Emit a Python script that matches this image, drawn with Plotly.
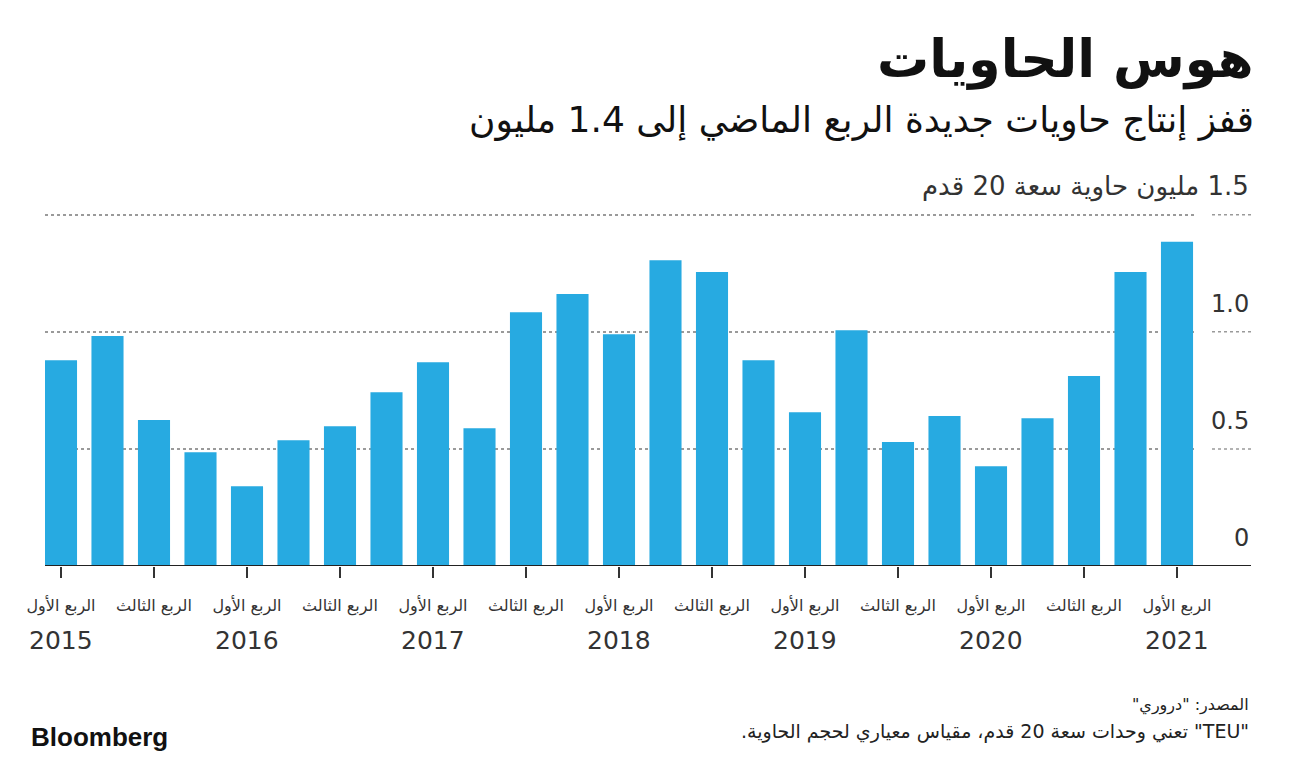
import plotly.graph_objects as go

# ---- data ----
periods = [f"{y} Q{q}" for y in range(2015, 2021) for q in (1, 2, 3, 4)] + ["2021 Q1"]
values = [0.879, 0.982, 0.623, 0.486,
          0.341, 0.537, 0.597, 0.742,
          0.870, 0.588, 1.084, 1.161,
          0.990, 1.306, 1.255, 0.879,
          0.657, 1.007, 0.529, 0.640,
          0.426, 0.631, 0.811, 1.255,
          1.385]
tick_periods = periods[::2]
tick_text = ["الربع الأول" if p.endswith("Q1") else "الربع الثالث" for p in tick_periods]
year_periods = [p for p in periods if p.endswith("Q1")]
year_labels = [p.split()[0] for p in year_periods]
y_ticks = [0, 0.5, 1.0, 1.5]
y_tick_text = ["0", "0.5", "1.0", "1.5 مليون حاوية سعة 20 قدم"]

title = "هوس الحاويات"
subtitle = "قفز إنتاج حاويات جديدة الربع الماضي إلى 1.4 مليون"
source = "المصدر: \"دروري\""
note = "\"TEU\" تعني وحدات سعة 20 قدم، مقياس معياري لحجم الحاوية."

RLE, PDF = "\u202B", "\u202C"
def rtl(s):
    return RLE + s + PDF

FONT = "DejaVu Sans"
BAR = "#27aae1"
TXT = "#333333"

OFF = 8  # default page body margin
W, H = 1297 - OFF, 762 - OFF
L = 45 - OFF
R = W - (1195 - OFF)
T = 203 - OFF
B = H - (566 - OFF)
PW = W - L - R
PH = H - T - B
def px(xpage):
    return (xpage - OFF - L) / PW
def py(ypage):
    return (H - B - (ypage - OFF)) / PH

fig = go.Figure(go.Bar(x=periods, y=values, marker_color=BAR, marker_line_width=0,
                       hoverinfo="skip"))

annotations = []
annotations.append(dict(text=rtl(title), x=px(1256), y=py(60), xref="paper", yref="paper",
                        xanchor="right", yanchor="middle", showarrow=False,
                        font=dict(family=FONT, size=52, color="#111111", weight="bold")))
annotations.append(dict(text=rtl(subtitle), x=px(1256), y=py(120), xref="paper", yref="paper",
                        xanchor="right", yanchor="middle", showarrow=False,
                        font=dict(family=FONT, size=36, color="#111111")))
for v, t in zip(y_ticks, y_tick_text):
    annotations.append(dict(text=rtl(t), x=px(1251), y=v, xref="paper", yref="y",
                            xanchor="right", yanchor="middle", yshift=28, showarrow=False,
                            font=dict(family=FONT, size=26 if v == 1.5 else 24, color=TXT)))
for p, yl in zip(year_periods, year_labels):
    annotations.append(dict(text=yl, x=p, y=0, xref="x", yref="paper", yshift=-74,
                            xanchor="center", yanchor="middle", showarrow=False,
                            font=dict(family=FONT, size=25, color=TXT)))
annotations.append(dict(text=rtl(source), x=px(1251), y=py(705), xref="paper", yref="paper",
                        xanchor="right", yanchor="middle", showarrow=False,
                        font=dict(family=FONT, size=16, color="#222222")))
annotations.append(dict(text=rtl(note), x=px(1251), y=py(731), xref="paper", yref="paper",
                        xanchor="right", yanchor="middle", showarrow=False,
                        font=dict(family=FONT, size=19, color="#222222")))
annotations.append(dict(text="Bloomberg", x=px(29), y=py(737), xref="paper", yref="paper",
                        xanchor="left", yanchor="middle", showarrow=False,
                        font=dict(family="Liberation Sans", size=26, color="#111111", weight="bold")))

shapes = []
for v in y_ticks[1:]:
    shapes.append(dict(type="line", xref="paper", yref="y", x0=px(1212), x1=px(1251), y0=v, y1=v,
                       line=dict(color="#9a9a9a", width=1.5, dash="3px,3px")))
shapes.append(dict(type="line", xref="paper", yref="y", x0=0, x1=px(1251), y0=0, y1=0,
                   line=dict(color="#222222", width=2), layer="above"))

fig.update_layout(
    width=W, height=H,
    margin=dict(l=L, r=R, t=T, b=B),
    paper_bgcolor="white", plot_bgcolor="white",
    showlegend=False,
    bargap=0.31,
    annotations=annotations,
    shapes=shapes,
    xaxis=dict(type="category", range=[-0.344, 24.387], tickmode="array",
               tickvals=tick_periods, ticktext=tick_text,
               ticks="outside", ticklen=11, tickwidth=2, tickcolor="#333333",
               tickfont=dict(family=FONT, size=16, color=TXT),
               ticklabelstandoff=14, showgrid=False, showline=False, zeroline=False),
    yaxis=dict(range=[0, 1.55], tickvals=y_ticks[1:], showticklabels=False,
               showgrid=True, gridcolor="#9a9a9a", gridwidth=1.5, griddash="3px,3px",
               zeroline=False, showline=False),
)

fig.write_html("out.html")
